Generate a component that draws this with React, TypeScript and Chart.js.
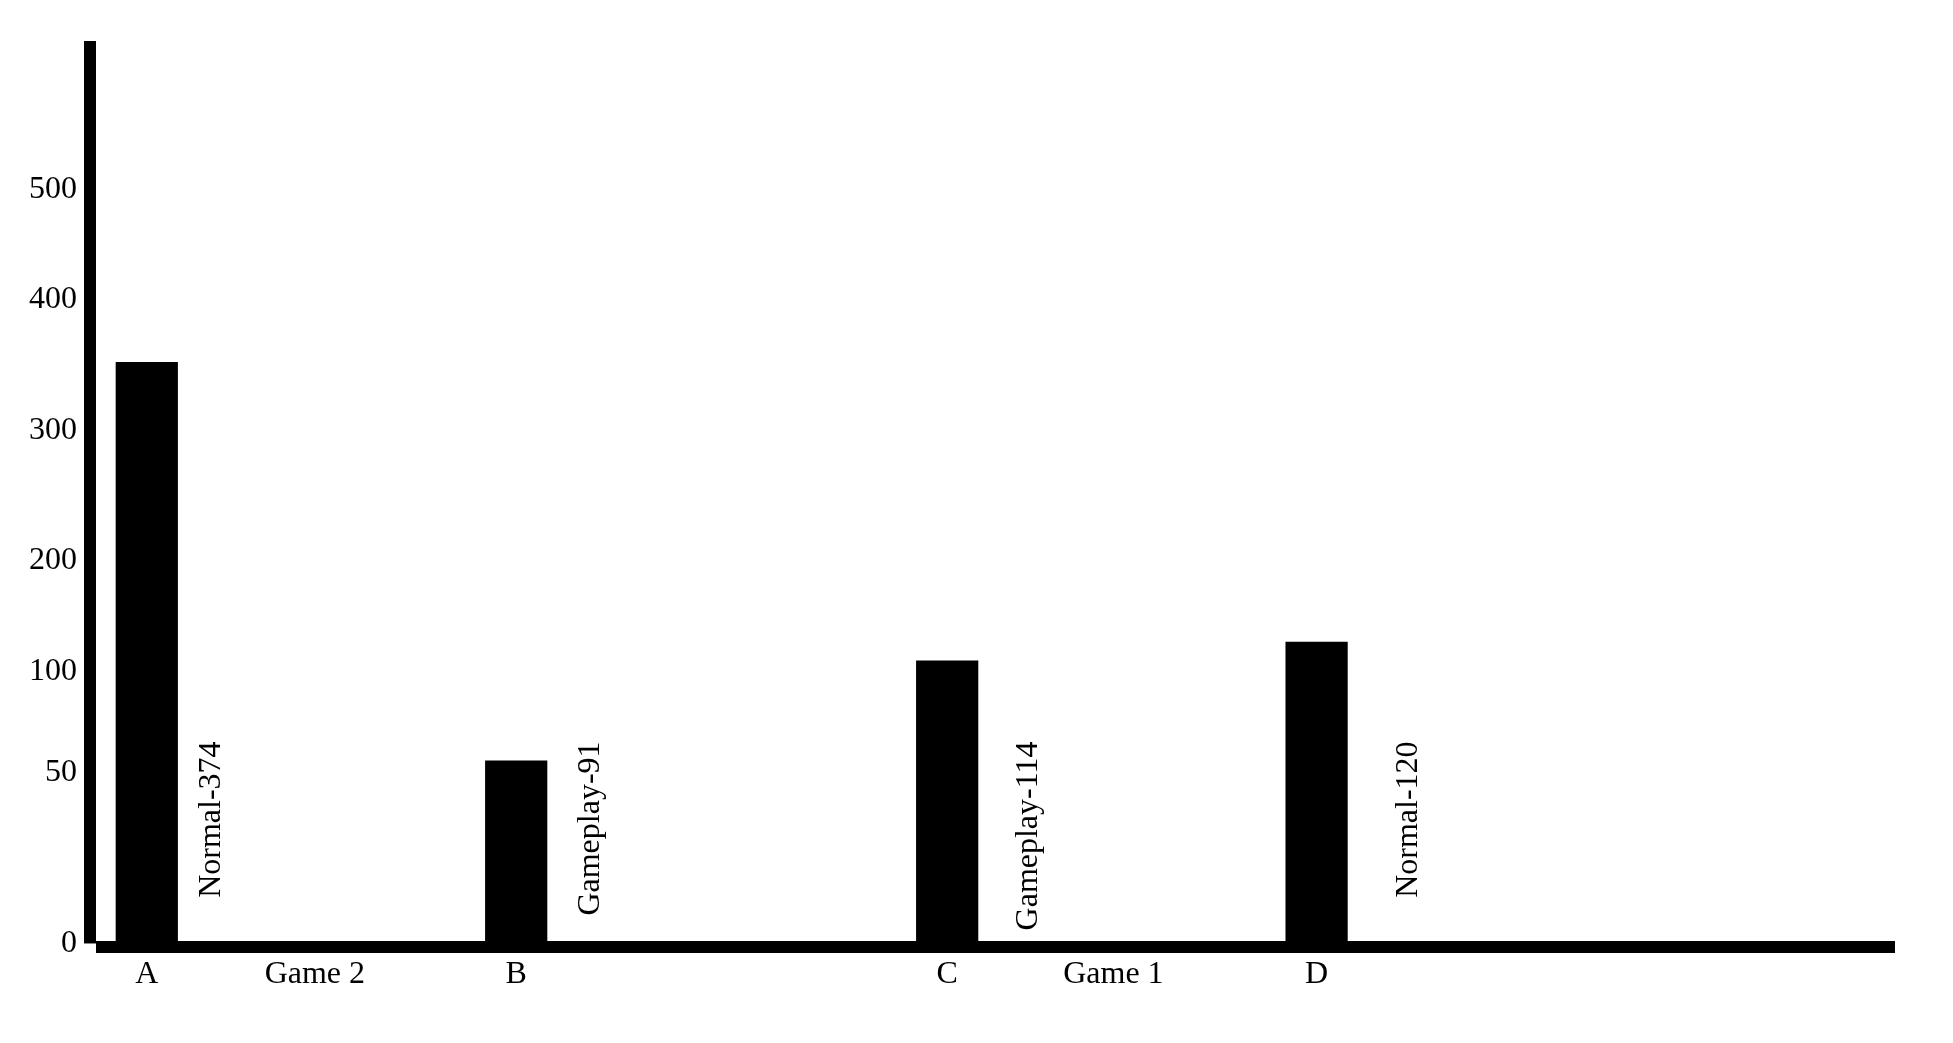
import React, { useEffect, useRef } from "react";
import { Chart, registerables, LinearScale, CategoryScale } from "chart.js";

// ---------- data ----------
const CATEGORIES = ["A", "B", "C", "D"];
const VALUES = [352, 56, 110, 127];
const BAR_LABELS = ["Normal-374", "Gameplay-91", "Gameplay-114", "Normal-120"];
const GROUPS = ["Game 2", "Game 1"];
const Y_TICKS = [0, 50, 100, 200, 300, 400, 500];
const Y_TICK_LABELS = ["0", "50", "100", "200", "300", "400", "500"];

// ---------- layout ----------
const FONT = "'Liberation Serif', 'Times New Roman', serif";
const FONT_SIZE = 32;
const SLOT_COUNT = 29;
const CATEGORY_SLOTS = [0, 6, 13, 19];
const GROUP_SLOTS = [2.73, 15.7];
const LABEL_SHIFTS = [1.19, 1.35, 1.46, 1.63];
const LABEL_TOP_OFFSET = 202;
const X_START_INSET = 26;
const X_END_OVERHANG = 6.5;
const Y_AXIS_MAX = 600;
const Y_TICK_FRACS = [0.0039, 0.1921, 0.3035, 0.426, 0.5701, 0.715, 0.8361];
const AXIS_WIDTH = 12;

const KNOT_VALUES = [...Y_TICKS, Y_AXIS_MAX];
const KNOT_FRACS = [...Y_TICK_FRACS, 1];

function toFrac(v: number): number {
  const n = KNOT_VALUES.length;
  let i = 0;
  while (i < n - 2 && v > KNOT_VALUES[i + 1]) i++;
  const v0 = KNOT_VALUES[i], v1 = KNOT_VALUES[i + 1];
  const f0 = KNOT_FRACS[i], f1 = KNOT_FRACS[i + 1];
  return f0 + ((v - v0) / (v1 - v0)) * (f1 - f0);
}

function fromFrac(f: number): number {
  const n = KNOT_FRACS.length;
  let i = 0;
  while (i < n - 2 && f > KNOT_FRACS[i + 1]) i++;
  const v0 = KNOT_VALUES[i], v1 = KNOT_VALUES[i + 1];
  const f0 = KNOT_FRACS[i], f1 = KNOT_FRACS[i + 1];
  return v0 + ((f - f0) / (f1 - f0)) * (v1 - v0);
}

class PiecewiseScale extends LinearScale {
  static id = "piecewise";
  determineDataLimits() {
    (this as any).min = fromFrac(0);
    (this as any).max = Y_AXIS_MAX;
  }
  buildTicks() {
    return Y_TICKS.map((v) => ({ value: v }));
  }
  getPixelForValue(value: number) {
    return this.getPixelForDecimal(toFrac(value));
  }
  getValueForPixel(pixel: number) {
    return fromFrac(this.getDecimalForPixel(pixel));
  }
}

class InsetCategoryScale extends CategoryScale {
  static id = "insetCategory";
  configure() {
    super.configure();
    const self = this as any;
    self._startPixel += X_START_INSET;
    self._length = self._length - X_START_INSET + X_END_OVERHANG;
  }
}

Chart.register(...registerables, PiecewiseScale as any, InsetCategoryScale as any);

const axisLinesPlugin = {
  id: "axisLines",
  beforeDatasetsDraw(chart: any) {
    const { ctx, chartArea } = chart;
    const zero = chart.scales.y.getPixelForValue(0);
    const h = AXIS_WIDTH / 2;
    ctx.save();
    ctx.fillStyle = "#000";
    ctx.fillRect(chartArea.left - h, chartArea.top, AXIS_WIDTH, zero - chartArea.top);
    ctx.fillRect(chartArea.left + h, chartArea.bottom - h, chartArea.right - chartArea.left - h, AXIS_WIDTH);
    ctx.restore();
  },
};

const textPlugin = {
  id: "textLabels",
  afterDatasetsDraw(chart: any) {
    const { ctx } = chart;
    const xs = chart.scales.x;
    const ys = chart.scales.y;
    const zero = ys.getPixelForValue(0);
    ctx.save();
    ctx.fillStyle = "#000";
    ctx.font = `${FONT_SIZE}px ${FONT}`;
    BAR_LABELS.forEach((t, i) => {
      const x = xs.getPixelForValue(CATEGORY_SLOTS[i] + LABEL_SHIFTS[i]);
      ctx.save();
      ctx.translate(x, zero - LABEL_TOP_OFFSET);
      ctx.rotate(-Math.PI / 2);
      ctx.textAlign = "right";
      ctx.textBaseline = "alphabetic";
      ctx.fillText(t, 0, 0);
      ctx.restore();
    });
    const gy = xs.top + 8 + (FONT_SIZE * 1.2) / 2;
    ctx.textAlign = "center";
    ctx.textBaseline = "middle";
    GROUPS.forEach((g, i) => {
      ctx.fillText(g, xs.getPixelForValue(GROUP_SLOTS[i]), gy);
    });
    ctx.restore();
  },
};

export default function App() {
  const ref = useRef<HTMLCanvasElement>(null);
  useEffect(() => {
    const labels = Array.from({ length: SLOT_COUNT }, (_, i) => {
      const k = CATEGORY_SLOTS.indexOf(i);
      return k >= 0 ? CATEGORIES[k] : "";
    });
    const data = Array.from({ length: SLOT_COUNT }, (_, i) => {
      const k = CATEGORY_SLOTS.indexOf(i);
      return k >= 0 ? VALUES[k] : null;
    });
    const font = { family: FONT, size: FONT_SIZE };
    const chart = new Chart(ref.current as HTMLCanvasElement, {
      type: "bar",
      data: {
        labels,
        datasets: [
          {
            data,
            backgroundColor: "#000",
            borderWidth: 0,
            barPercentage: 1,
            categoryPercentage: 1,
          },
        ],
      },
      options: {
        responsive: false,
        animation: false,
        layout: { padding: { top: 33, right: 50, left: 0, bottom: 0 } },
        plugins: { legend: { display: false }, tooltip: { enabled: false } },
        scales: {
          x: {
            type: "insetCategory" as any,
            grid: { display: false, drawTicks: false, tickLength: 0 },
            border: { display: false },
            ticks: {
              autoSkip: false,
              maxRotation: 0,
              minRotation: 0,
              padding: 8,
              color: "#000",
              font,
            },
            afterFit: (s: any) => {
              s.height = 88;
              s.paddingLeft = 0;
              s.paddingRight = 0;
            },
          },
          y: {
            type: "piecewise" as any,
            grid: { display: false, drawTicks: false, tickLength: 0 },
            border: { display: false },
            ticks: {
              autoSkip: false,
              padding: 13,
              color: "#000",
              font,
              callback: (v: any) => {
                const i = Y_TICKS.indexOf(Number(v));
                return i >= 0 ? Y_TICK_LABELS[i] : "";
              },
            },
            afterFit: (s: any) => {
              s.width = 82;
              s.paddingTop = 0;
              s.paddingBottom = 0;
            },
          },
        },
      } as any,
      plugins: [axisLinesPlugin, textPlugin],
    });
    return () => chart.destroy();
  }, []);
  return <canvas ref={ref} width={1937} height={1027} style={{ display: "block" }} />;
}
